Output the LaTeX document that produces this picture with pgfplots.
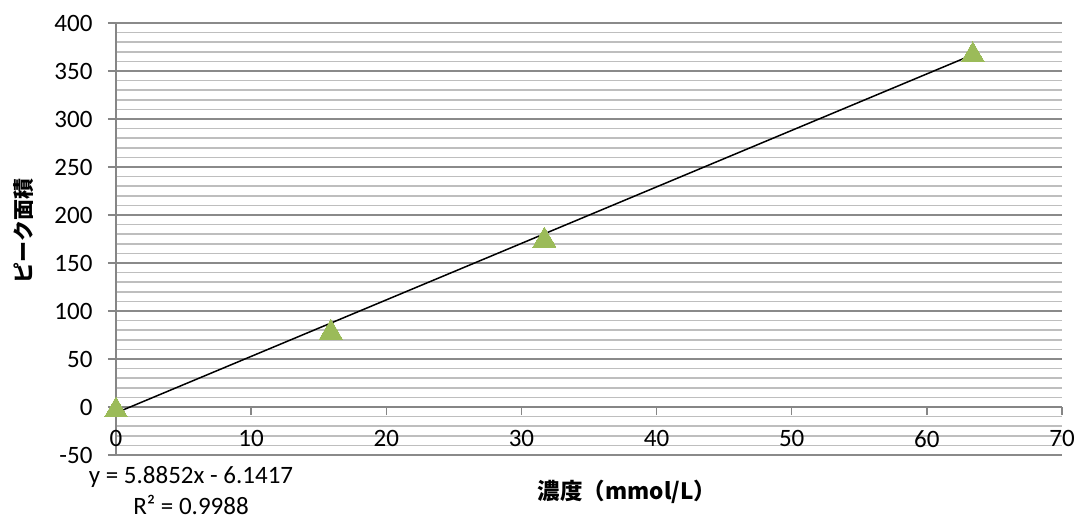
\documentclass[border=0pt]{standalone}
\usepackage{fontspec}
\setmainfont{Carlito}
\newfontfamily\jp{Noto Sans CJK JP}
\usepackage{pgfplots}
\pgfplotsset{compat=1.18}
\definecolor{excelgreen}{HTML}{9BBB59}
\definecolor{axisgray}{HTML}{868686}
\definecolor{majgray}{HTML}{8A8A8A}
\definecolor{mingray}{HTML}{BEBEBE}
\begin{document}
\begin{tikzpicture}[x=1pt,y=1pt]
\useasboundingbox (0,0) rectangle (1076,-520);
\begin{axis}[
  at={(116pt,-455pt)}, anchor=south west,
  scale only axis, width=946pt, height=432pt,
  xmin=0, xmax=70, ymin=-50, ymax=400,
  axis x line*=middle, axis y line*=left,
  axis line style={draw=axisgray, line width=1.5pt, -},
  xtick={0,10,...,70}, ytick={-50,0,...,400},
  minor ytick={-40,-30,...,390},
  ymajorgrids, yminorgrids,
  major grid style={draw=majgray, line width=1.8pt},
  minor grid style={draw=mingray, line width=1.5pt},
  tick align=outside,
  major tick length=8pt,
  minor tick length=0pt,
  tick style={draw=axisgray, line width=1.3pt},
  hide obscured x ticks=false, hide obscured y ticks=false,
  ticklabel style={font=\fontsize{25}{30}\selectfont, text=black},
  xticklabel style={yshift=-12pt},
  yticklabel style={xshift=-12pt},
  /pgf/number format/assume math mode=true,
  clip=false,
]
\addplot[only marks, color=excelgreen, mark=triangle*, mark size=13.3pt,
  mark options={fill=excelgreen, draw=excelgreen, line width=0pt, yshift=-3.3pt}]
  coordinates {(0,0) (15.9,81) (31.7,177) (63.4,370)};
\addplot[black, line width=1.5pt] coordinates {(0,-6.1417) (63.4,367.0)};
\end{axis}
\node[rotate=90, font=\jp\bfseries\fontsize{21}{25}\selectfont] at (24,-231) {ピーク面積};
\node[font=\jp\bfseries\fontsize{22.5}{27}\selectfont] at (627,-492) {濃度（mmol/L）};
\node[font=\fontsize{25}{30}\selectfont] at (191,-477) {y = 5.8852x - 6.1417};
\node[font=\fontsize{25}{30}\selectfont] at (191,-505) {R² = 0.9988};
\end{tikzpicture}
\end{document}
